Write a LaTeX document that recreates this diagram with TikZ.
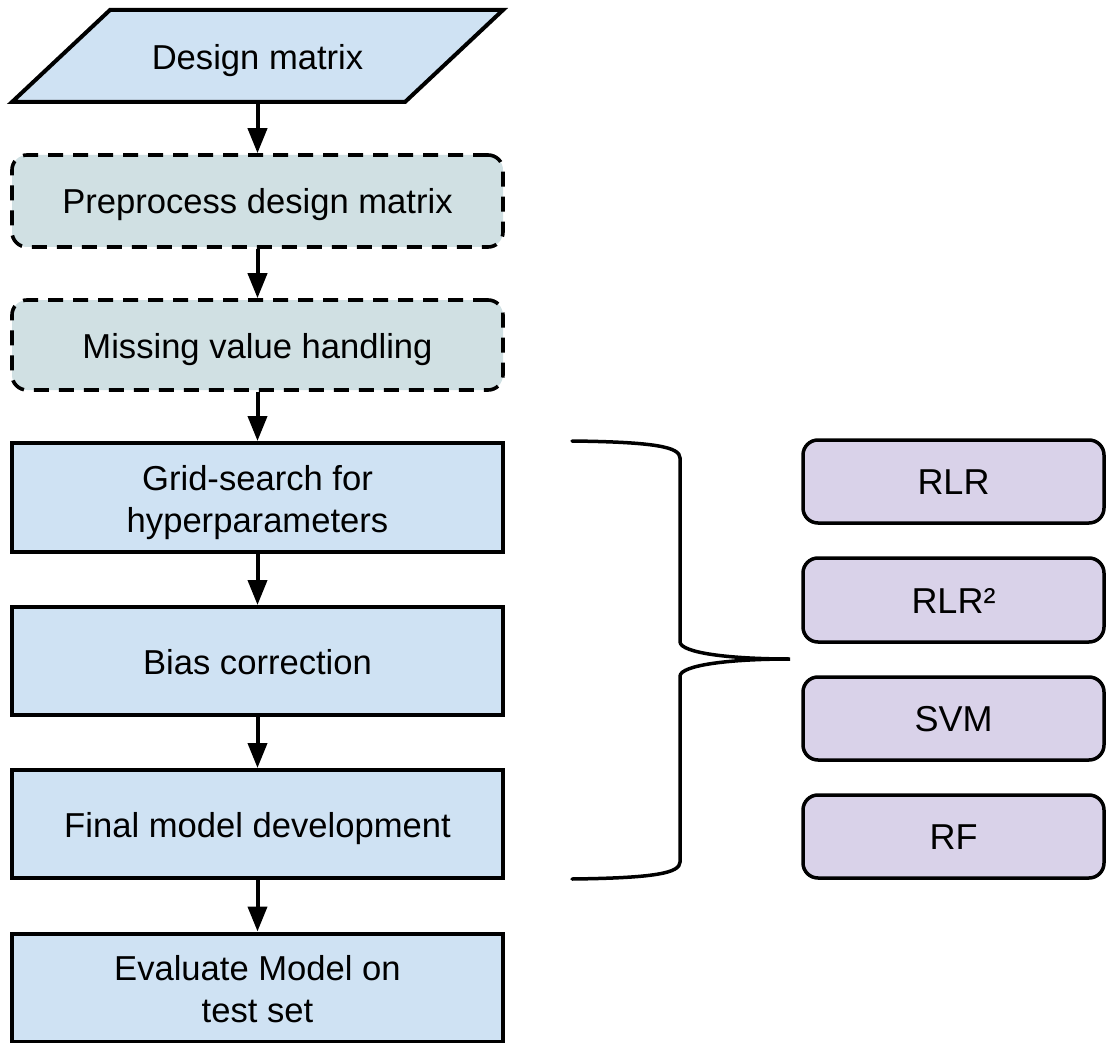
\documentclass[tikz,border=0pt]{standalone}
\usepackage{fontspec}
\setmainfont{Liberation Sans}
\usetikzlibrary{arrows.meta}
\definecolor{boxblue}{HTML}{CFE2F3}
\definecolor{boxcyan}{HTML}{D0E0E3}
\definecolor{boxpurple}{HTML}{D9D2E9}
\newcommand{\topstrut}[1]{\rule{0pt}{#1}}
\newcommand{\botstrut}[1]{\rule[-#1]{0pt}{#1}}
\tikzset{
  base/.style={inner sep=0pt, align=center, font=\fontsize{34.6}{42}\selectfont},
  oneline/.style={text height=33.5pt, text depth=7.5pt},
  stepbox/.style={base, draw=black, line width=4pt, fill=boxblue, minimum width=491pt},
  optbox/.style={base, oneline, draw=black, line width=3.6pt, fill=boxcyan, rounded corners=15pt,
    dash pattern=on 15pt off 10pt, minimum width=491pt},
  modelbox/.style={base, oneline, draw=black, line width=3.5pt, fill=boxpurple, rounded corners=15pt,
    minimum width=301pt, font=\fontsize{36}{42}\selectfont},
  flow/.style={line width=4pt, -{Triangle[length=25pt,width=19pt]}},
}
\begin{document}
\begin{tikzpicture}[x=1pt,y=-1pt]
\useasboundingbox (0,0) rectangle (1106,1043);
% input parallelogram
\draw[line width=4pt, line join=miter, fill=boxblue] (110,10) -- (503,10) -- (405,102) -- (12,102) -- cycle;
\node[base, text height=35.5pt, text depth=7.5pt, minimum width=393pt, minimum height=92pt] (dm) at (257.5,56) {Design matrix};
% steps
\node[optbox, minimum height=92pt] (pre) at (257.5,201) {Preprocess design matrix};
\node[optbox, minimum height=90pt] (miss) at (257.5,345) {Missing value handling};
\node[stepbox, minimum height=109pt] (grid) at (257.5,497.5) {\topstrut{35pt}Grid-search for\\hyperparameters\botstrut{8pt}};
\node[stepbox, oneline, minimum height=108pt] (bias) at (257.5,661) {Bias correction};
\node[stepbox, oneline, minimum height=108pt] (final) at (257.5,824) {Final model development};
\node[stepbox, minimum height=108pt] (eval) at (257.5,987.5) {\topstrut{35pt}Evaluate Model on\\test set\botstrut{8pt}};
% arrows
\draw[flow] (dm.south) -- (pre.north);
\draw[flow] (pre.south) -- (miss.north);
\draw[flow] (miss.south) -- (grid.north);
\draw[flow] (grid.south) -- (bias.north);
\draw[flow] (bias.south) -- (final.north);
\draw[flow] (final.south) -- (eval.north);
% models
\node[modelbox, minimum height=83pt] (rlr) at (953.5,481.5) {RLR};
\node[modelbox, minimum height=84pt] (rlr2) at (953.5,600) {RLR²};
\node[modelbox, minimum height=83pt] (svm) at (953.5,718.5) {SVM};
\node[modelbox, minimum height=83pt] (rf) at (953.5,836.5) {RF};
% brace
\coordinate (btop) at (572,441);
\coordinate (bbot) at (572,879);
\coordinate (btip) at (790,659);
\draw[line width=3.5pt, line cap=round] (btop) .. controls (655,442) and (680,447) .. (680,458)
  -- (680,642) .. controls (681,653) and (730,659) .. (btip)
  .. controls (730,659) and (681,665) .. (680,676)
  -- (680,862) .. controls (680,873) and (655,878) .. (bbot);
\end{tikzpicture}
\end{document}
